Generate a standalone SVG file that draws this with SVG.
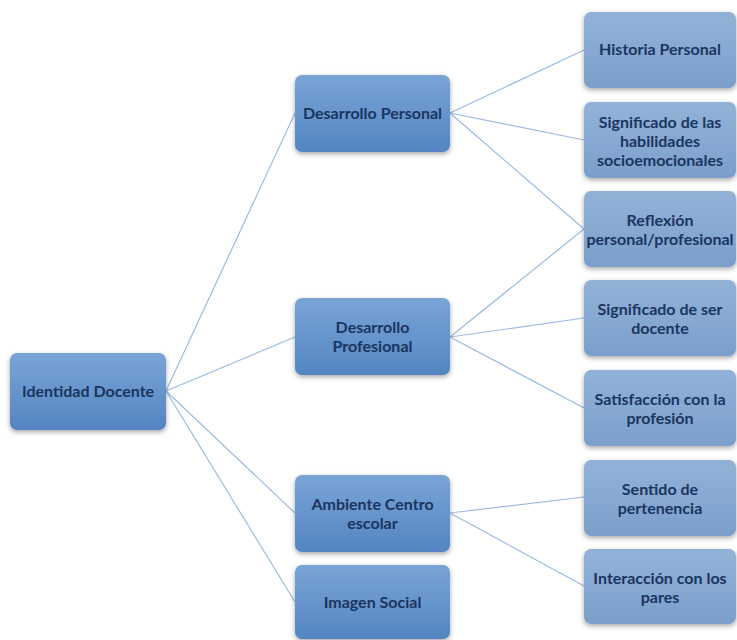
<svg xmlns="http://www.w3.org/2000/svg" width="737" height="640" viewBox="0 0 737 640">
<defs>
<linearGradient id="gm" x1="0" y1="0" x2="0" y2="1">
<stop offset="0" stop-color="#79a4d6"/>
<stop offset="1" stop-color="#5485c2"/>
</linearGradient>
<linearGradient id="gr" x1="0" y1="0" x2="0" y2="1">
<stop offset="0" stop-color="#93b2d8"/>
<stop offset="1" stop-color="#7b9fcb"/>
</linearGradient>
<filter id="sh" x="-20%" y="-20%" width="140%" height="150%">
<feDropShadow dx="0" dy="2" stdDeviation="2.5" flood-color="#000" flood-opacity="0.35"/>
</filter>
<style>
.m{fill:url(#gm);filter:url(#sh)}
.r{fill:url(#gr);filter:url(#sh)}
text{font-family:Lato,"Open Sans","Liberation Sans",sans-serif;font-weight:bold;font-size:16px;fill:#1a355f;text-anchor:middle}
.c line{stroke:#9bbbe0;stroke-width:1.2}
</style>
</defs>
<rect width="737" height="640" fill="#ffffff"/>
<g class="c" id="connectors">
<line x1="166" y1="391" x2="295" y2="113"/>
<line x1="166" y1="391" x2="295" y2="337"/>
<line x1="166" y1="391" x2="295" y2="513"/>
<line x1="166" y1="391" x2="295" y2="602"/>
<line x1="450" y1="113" x2="584" y2="50"/>
<line x1="450" y1="113" x2="584" y2="140"/>
<line x1="450" y1="113" x2="584" y2="229"/>
<line x1="450" y1="337" x2="584" y2="229"/>
<line x1="450" y1="337" x2="584" y2="318"/>
<line x1="450" y1="337" x2="584" y2="408"/>
<line x1="450" y1="513" x2="584" y2="497"/>
<line x1="450" y1="513" x2="584" y2="586"/>
</g>
<g id="n-root"><rect class="m" x="10" y="353" width="156" height="77" rx="7"/><text x="88" y="397">Identidad Docente</text></g>
<g id="n-dp"><rect class="m" x="295" y="75" width="155" height="77" rx="7"/><text x="372.5" y="119">Desarrollo Personal</text></g>
<g id="n-dprof"><rect class="m" x="295" y="298" width="155" height="77" rx="7"/><text x="372.5" y="333">Desarrollo</text><text x="372.5" y="352">Profesional</text></g>
<g id="n-amb"><rect class="m" x="295" y="475" width="155" height="77" rx="7"/><text x="372.5" y="510">Ambiente Centro</text><text x="372.5" y="529">escolar</text></g>
<g id="n-img"><rect class="m" x="295" y="565" width="155" height="74" rx="7"/><text x="372.5" y="608">Imagen Social</text></g>
<g id="n-hist"><rect class="r" x="584" y="12" width="152" height="76" rx="7"/><text x="660" y="55">Historia Personal</text></g>
<g id="n-sig"><rect class="r" x="584" y="102" width="152" height="76" rx="7"/><text x="660" y="128">Significado de las</text><text x="660" y="147">habilidades</text><text x="660" y="166">socioemocionales</text></g>
<g id="n-refl"><rect class="r" x="584" y="191" width="152" height="76" rx="7"/><text x="660" y="226">Reflexión</text><text x="660" y="245">personal/profesional</text></g>
<g id="n-ser"><rect class="r" x="584" y="280" width="152" height="76" rx="7"/><text x="660" y="315">Significado de ser</text><text x="660" y="334">docente</text></g>
<g id="n-sat"><rect class="r" x="584" y="370" width="152" height="76" rx="7"/><text x="660" y="405">Satisfacción con la</text><text x="660" y="424">profesión</text></g>
<g id="n-sen"><rect class="r" x="584" y="460" width="152" height="76" rx="7"/><text x="660" y="495">Sentido de</text><text x="660" y="514">pertenencia</text></g>
<g id="n-int"><rect class="r" x="584" y="549" width="152" height="75" rx="7"/><text x="660" y="584">Interacción con los</text><text x="660" y="603">pares</text></g>
</svg>
